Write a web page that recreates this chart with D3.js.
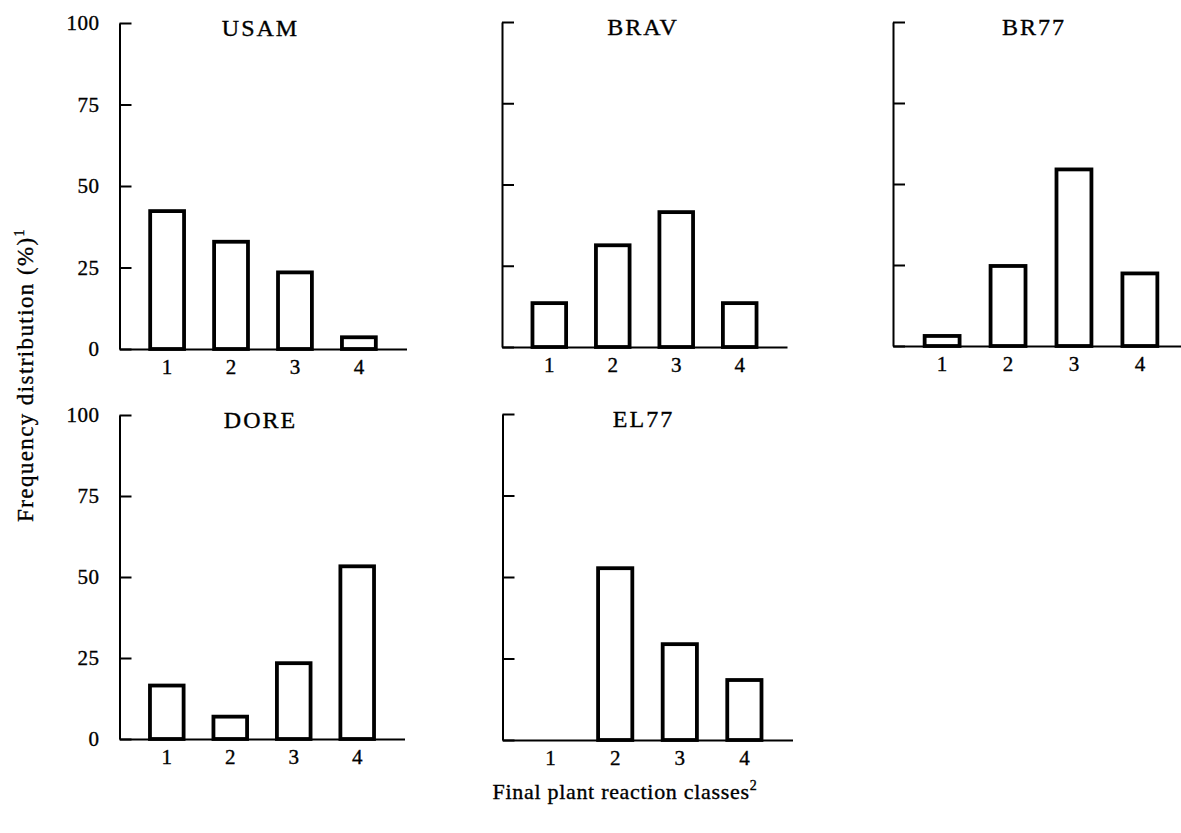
<!DOCTYPE html>
<html>
<head>
<meta charset="utf-8">
<script src="https://cdn.jsdelivr.net/npm/d3@7/dist/d3.min.js"></script>
<style>
  html, body { margin: 0; padding: 0; background: #fff; }
  svg { display: block; font-family: "Liberation Serif", "DejaVu Serif", serif; }
  svg text { stroke: #000; stroke-width: 0.35px; }
</style>
</head>
<body>
<svg id="chart" width="1181" height="833"></svg>
<script>
// ---- data ----
const classes = ["1", "2", "3", "4"];
const cultivars = ["USAM", "BRAV", "BR77", "DORE", "EL77"];
const usam = [42.3, 32.9, 23.5, 3.6];
const brav = [13.5, 31.3, 41.5, 13.5];
const br77 = [3.1, 24.7, 54.5, 22.4];
const dore = [16.5, 6.9, 23.4, 53.3];
const el77 = [0, 52.7, 29.4, 18.4];
const yTicks = [0, 25, 50, 75, 100];
const yTitle = "Frequency distribution (%)";
const yTitleSup = "1";
const xTitle = "Final plant reaction classes";
const xTitleSup = "2";

const seriesValues = [usam, brav, br77, dore, el77];

// ---- layout ----
const layout = [
  { x: 119.5, top: 23,  base: 349, w: 287, labels: true },
  { x: 502,   top: 22,  base: 347, w: 285, labels: false },
  { x: 893,   top: 22,  base: 346, w: 296, labels: false },
  { x: 119.5, top: 415, base: 739, w: 285, labels: true },
  { x: 502.5, top: 414, base: 740, w: 290, labels: false }
];

const svg = d3.select("#chart");
svg.append("rect").attr("width", 1181).attr("height", 833).attr("fill", "#fff");

cultivars.forEach((name, i) => {
  const L = layout[i];
  const vals = seriesValues[i];
  const g = svg.append("g").attr("transform", `translate(${L.x},0)`);

  const x = d3.scaleBand().domain(classes).range([0, L.w])
    .paddingInner(0.47).paddingOuter(0.48);
  const y = d3.scaleLinear().domain([0, 100]).range([L.base, L.top]);

  // x axis
  const xa = g.append("g").attr("transform", `translate(0,${L.base})`)
    .call(d3.axisBottom(x).tickSize(0).tickPadding(10));
  xa.select(".domain").attr("stroke", "#000").attr("stroke-width", 2);
  xa.selectAll("text").attr("font-size", 21).attr("fill", "#000")
    .attr("font-family", "Liberation Serif");

  // y axis
  const ya = g.append("g")
    .call(d3.axisLeft(y).tickValues(yTicks).tickSizeInner(-12).tickSizeOuter(0)
      .tickPadding(20).tickFormat(L.labels ? d3.format("d") : () => ""));
  ya.select(".domain").attr("stroke", "#000").attr("stroke-width", 2);
  ya.selectAll(".tick line").attr("stroke", "#000").attr("stroke-width", 2);
  ya.selectAll("text").attr("font-size", 21).attr("fill", "#000")
    .attr("font-family", "Liberation Serif").attr("letter-spacing", 0.5);

  // bars
  const data = classes.map((c, j) => ({ c, v: vals[j] })).filter(d => d.v > 0);
  g.selectAll("rect.bar").data(data).enter().append("rect")
    .attr("class", "bar")
    .attr("x", d => x(d.c))
    .attr("y", d => y(d.v))
    .attr("width", x.bandwidth())
    .attr("height", d => y(0) - y(d.v))
    .attr("fill", "#fff")
    .attr("stroke", "#000")
    .attr("stroke-width", 3.8);

  // title
  g.append("text")
    .attr("x", 141)
    .attr("y", L.top + 13)
    .attr("text-anchor", "middle")
    .attr("font-size", 24)
    .attr("letter-spacing", 2)
    .attr("fill", "#000")
    .text(name);
});

// y title
const yt = svg.append("text")
  .attr("transform", "translate(33,375) rotate(-90)")
  .attr("text-anchor", "middle")
  .attr("font-size", 23)
  .attr("letter-spacing", 1.4)
  .attr("fill", "#000");
yt.append("tspan").text(yTitle);
yt.append("tspan").attr("font-size", 14).attr("dy", -9).text(yTitleSup);

// x title
const xt = svg.append("text")
  .attr("x", 625)
  .attr("y", 799)
  .attr("text-anchor", "middle")
  .attr("font-size", 22)
  .attr("letter-spacing", 0.7)
  .attr("fill", "#000");
xt.append("tspan").text(xTitle);
xt.append("tspan").attr("font-size", 14).attr("dy", -9).text(xTitleSup);
</script>
</body>
</html>
